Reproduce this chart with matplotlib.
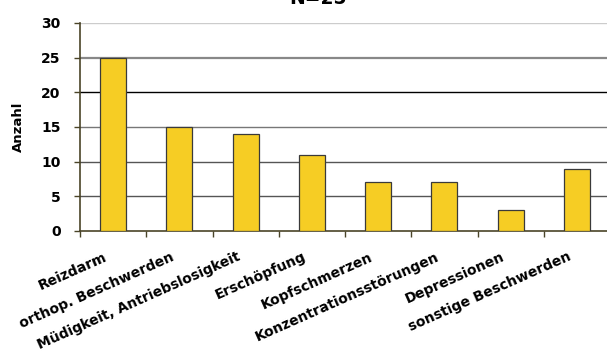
import numpy as np
import matplotlib
matplotlib.use("Agg")
import matplotlib.pyplot as plt

plt.rcParams['font.family'] = ['DejaVu Sans']
plt.rcParams['font.weight'] = 'bold'

## Data
categories = ['Reizdarm', 'orthop. Beschwerden', 'Müdigkeit, Antriebslosigkeit',
              'Erschöpfung', 'Kopfschmerzen', 'Konzentrationsstörungen',
              'Depressionen', 'sonstige Beschwerden']
counts = [25, 15, 14, 11, 7, 7, 3, 9]
yticks = [0, 5, 10, 15, 20, 25, 30]
title = 'N=25'

## Figure
fig = plt.figure(figsize=(6.07, 3.58), dpi=100)
W, H = 607, 358
# plot area runs slightly past the right edge, like the original crop
ax = fig.add_axes([80 / W, 1 - 231 / H, 530 / W, 208 / H])

x = np.arange(len(categories))
ax.bar(x, counts, width=0.39, color='#F6CD24', edgecolor='#3a3a3a',
       linewidth=0.9, zorder=3)

# gridlines
grid_colors = {5: '#555555', 10: '#555555', 15: '#777777', 20: '#000000',
               25: '#888888', 30: '#cccccc'}
for v, c in grid_colors.items():
    ax.axhline(v, color=c, linewidth=1.6 if v == 25 else 1.0, zorder=1)

ax.set_xlim(-0.5, len(categories) - 0.5)
ax.set_ylim(0, 30)
ax.set_yticks(yticks)
ax.set_yticklabels([str(t) for t in yticks], fontsize=10, fontweight='bold')
ax.set_xticks(np.arange(len(categories) + 1) - 0.5)
ax.set_xticklabels([])
ax.tick_params(axis='both', direction='out', length=4, width=1,
               color='#4a4428')
ax.tick_params(axis='y', pad=10)

for i, lab in enumerate(categories):
    ax.text(i - 0.14, -2.7, lab, rotation=24, ha='right', va='top',
            rotation_mode='anchor', fontsize=10, fontweight='bold')

for s in ['top', 'right']:
    ax.spines[s].set_visible(False)
for s in ['left', 'bottom']:
    ax.spines[s].set_color('#4a4428')
    ax.spines[s].set_linewidth(1.2)

fig.text(18 / W, 1 - 127 / H, 'Anzahl', rotation=90, ha='center', va='center',
         fontsize=9.5, fontweight='bold')

fig.text(318 / W, 1 - 3.5 / H, title, ha='center', va='baseline',
         fontsize=13.5, fontweight='bold')

fig.savefig('out.png', dpi=100)
